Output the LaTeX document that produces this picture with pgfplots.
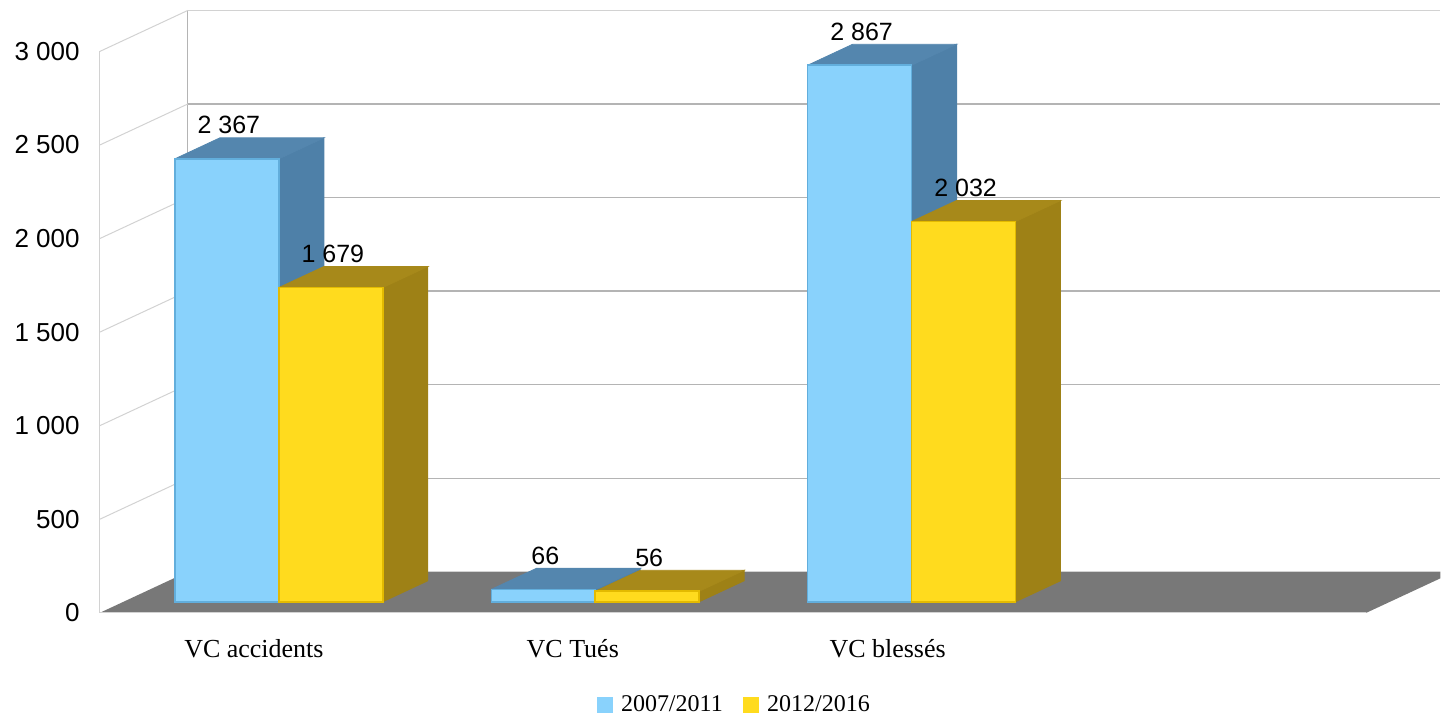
\documentclass[border=0pt]{standalone}
\usepackage{pgfplots}
\pgfplotsset{compat=1.18}
\usepackage{fontspec}
\setmainfont{Liberation Serif}
\newfontfamily\arial{Liberation Sans}
\definecolor{bluefront}{HTML}{89D2FC}
\definecolor{blueedge}{HTML}{62AEDC}
\definecolor{blueside}{HTML}{4E80A8}
\definecolor{bluetop}{HTML}{5486AE}
\definecolor{yelfront}{HTML}{FFDB1E}
\definecolor{yeledge}{HTML}{E3BA00}
\definecolor{yelside}{HTML}{9E8116}
\definecolor{yeltop}{HTML}{A7891A}
\definecolor{floorgray}{HTML}{787878}
\definecolor{gridback}{HTML}{B4B4B4}
\definecolor{gridside}{HTML}{D2D2D2}
\begin{document}
\begin{tikzpicture}
\begin{axis}[
  scale only axis, width=720.5pt, height=359.5pt,
  xmin=0, xmax=1441, ymin=-625, ymax=3215.8,
  hide axis, clip=false,
  /pgf/number format/1000 sep={\ },
  /pgf/number format/assume math mode=true,
  legend style={at={(0.5104,0.0195)}, anchor=center, draw=none, fill=none,
    legend columns=2, font=\fontsize{12}{14}\selectfont,
    /tikz/every even column/.append style={column sep=8pt},
    nodes={inner sep=2pt}},
]
% bounding box
\path (axis cs:0,-625) rectangle (axis cs:1441,3215.8);
% walls: slanted side lines and back gridlines
\draw[gridside, line width=0.5pt] (axis cs:100,-58.8) -- (axis cs:100,2941.2);
\draw[gridback, line width=0.5pt] (axis cs:188,160.3) -- (axis cs:188,3160.3);
\draw[gridside, line width=0.5pt] (axis cs:100,441.2) -- (axis cs:188,660.3);
\draw[gridside, line width=0.5pt] (axis cs:100,941.2) -- (axis cs:188,1160.3);
\draw[gridside, line width=0.5pt] (axis cs:100,1441.2) -- (axis cs:188,1660.3);
\draw[gridside, line width=0.5pt] (axis cs:100,1941.2) -- (axis cs:188,2160.3);
\draw[gridside, line width=0.5pt] (axis cs:100,2441.2) -- (axis cs:188,2660.3);
\draw[gridside, line width=0.5pt] (axis cs:100,2941.2) -- (axis cs:188,3160.3);
\draw[gridback, line width=0.6pt] (axis cs:188,660.3) -- (axis cs:1441,660.3);
\draw[gridback, line width=0.6pt] (axis cs:188,1160.3) -- (axis cs:1441,1160.3);
\draw[gridback, line width=0.6pt] (axis cs:188,1660.3) -- (axis cs:1441,1660.3);
\draw[gridback, line width=0.6pt] (axis cs:188,2160.3) -- (axis cs:1441,2160.3);
\draw[gridback, line width=0.6pt] (axis cs:188,2660.3) -- (axis cs:1441,2660.3);
\draw[gridside, line width=0.6pt] (axis cs:188,3160.3) -- (axis cs:1441,3160.3);
% floor
\fill[floorgray] (axis cs:100,-58.8) -- (axis cs:1367,-58.8) -- (axis cs:1441,125.2)
  -- (axis cs:1441,160.3) -- (axis cs:188,160.3) -- cycle;
\draw[gridside, line width=0.6pt] (axis cs:188,160.3) -- (axis cs:1441,160.3);
\draw[gridside, line width=0.5pt] (axis cs:100,-58.8) -- (axis cs:1367,-58.8);
% tick labels (front plane)
\begin{scope}[every node/.style={anchor=east, inner sep=0pt, font=\arial\fontsize{13}{15}\selectfont}]
\node at (axis cs:80,-58.8) {0};
\node at (axis cs:80,441.2) {500};
\node at (axis cs:80,941.2) {1 000};
\node at (axis cs:80,1441.2) {1 500};
\node at (axis cs:80,1941.2) {2 000};
\node at (axis cs:80,2441.2) {2 500};
\node at (axis cs:80,2941.2) {3 000};
\end{scope}
% category labels
\begin{scope}[every node/.style={anchor=center, inner sep=0pt, font=\fontsize{13}{15}\selectfont}]
\node at (axis cs:254,-251) {VC accidents};
\node at (axis cs:573,-251) {VC Tués};
\node at (axis cs:888,-251) {VC blessés};
\end{scope}
% ---- 2007/2011 (blue) ----
\addplot[fill=blueside, draw=blueside, forget plot] coordinates {(279,0) (324,112.2) (324,2479.2) (279,2367) (279,0)};
\addplot[fill=bluetop, draw=bluetop, forget plot] coordinates {(175,2367) (220,2479.2) (324,2479.2) (279,2367) (175,2367)};
\addplot[fill=blueside, draw=blueside, forget plot] coordinates {(595.5,0) (640.5,112.2) (640.5,178.2) (595.5,66) (595.5,0)};
\addplot[fill=bluetop, draw=bluetop, forget plot] coordinates {(491.5,66) (536.5,178.2) (640.5,178.2) (595.5,66) (491.5,66)};
\addplot[fill=blueside, draw=blueside, forget plot] coordinates {(912,0) (957,112.2) (957,2979.2) (912,2867) (912,0)};
\addplot[fill=bluetop, draw=bluetop, forget plot] coordinates {(808,2867) (853,2979.2) (957,2979.2) (912,2867) (808,2867)};
\addplot[ybar, bar width=104, bar shift=0pt, fill=bluefront, draw=blueedge, line width=0.8pt, forget plot,
  nodes near coords,
  nodes near coords style={font=\arial\fontsize{12.5}{14}\selectfont, anchor=south, inner sep=0pt, yshift=12pt, xshift=1pt, text=black}]
  coordinates {(227,2367) (543.5,66) (860,2867)};
% ---- 2012/2016 (yellow) ----
\addplot[fill=yelside, draw=yelside, forget plot] coordinates {(383,0) (428,112.2) (428,1791.2) (383,1679) (383,0)};
\addplot[fill=yeltop, draw=yeltop, forget plot] coordinates {(279,1679) (324,1791.2) (428,1791.2) (383,1679) (279,1679)};
\addplot[fill=yelside, draw=yelside, forget plot] coordinates {(699.5,0) (744.5,112.2) (744.5,168.2) (699.5,56) (699.5,0)};
\addplot[fill=yeltop, draw=yeltop, forget plot] coordinates {(595.5,56) (640.5,168.2) (744.5,168.2) (699.5,56) (595.5,56)};
\addplot[fill=yelside, draw=yelside, forget plot] coordinates {(1016,0) (1061,112.2) (1061,2144.2) (1016,2032) (1016,0)};
\addplot[fill=yeltop, draw=yeltop, forget plot] coordinates {(912,2032) (957,2144.2) (1061,2144.2) (1016,2032) (912,2032)};
\addplot[ybar, bar width=104, bar shift=0pt, fill=yelfront, draw=yeledge, line width=0.8pt, forget plot,
  nodes near coords,
  nodes near coords style={font=\arial\fontsize{12.5}{14}\selectfont, anchor=south, inner sep=0pt, yshift=12pt, xshift=1pt, text=black}]
  coordinates {(331,1679) (647.5,56) (964,2032)};
% legend
\addlegendimage{legend image code/.code={\fill[bluefront] (0pt,-3.75pt) rectangle (7.5pt,3.75pt); \path[draw=none,fill=none] (0pt,-3.75pt) rectangle (10pt,3.75pt);}}
\addlegendentry{2007/2011}
\addlegendimage{legend image code/.code={\fill[yelfront] (0pt,-3.75pt) rectangle (7.5pt,3.75pt); \path[draw=none,fill=none] (0pt,-3.75pt) rectangle (10pt,3.75pt);}}
\addlegendentry{2012/2016}
\end{axis}
\end{tikzpicture}
\end{document}
